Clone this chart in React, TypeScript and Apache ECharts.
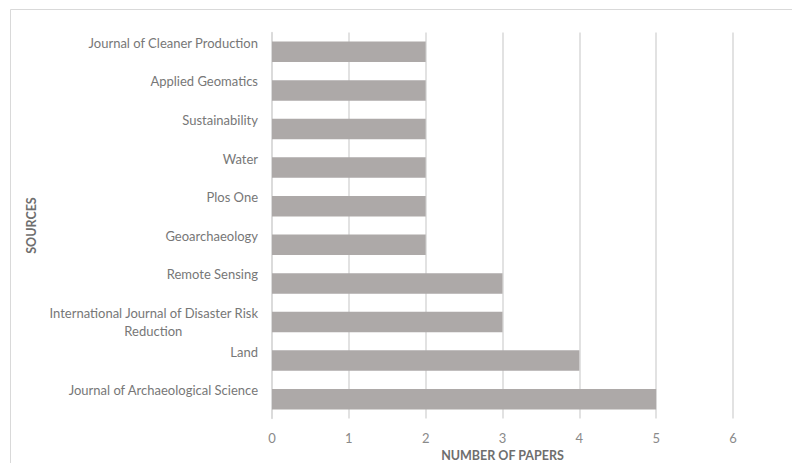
import React, { useEffect, useRef } from "react";
import * as echarts from "echarts";

const categories = [
  "Journal of Archaeological Science",
  "Land",
  "International Journal of Disaster Risk\nReduction",
  "Remote Sensing",
  "Geoarchaeology",
  "Plos One",
  "Water",
  "Sustainability",
  "Applied Geomatics",
  "Journal of Cleaner Production",
];
const paperCounts = [5, 4, 3, 3, 2, 2, 2, 2, 2, 2];
const xTicks = [0, 1, 2, 3, 4, 5, 6];

export default function App() {
  const ref = useRef<HTMLDivElement>(null);
  useEffect(() => {
    document.body.style.margin = "0";
    const chart = echarts.init(ref.current!, null, { renderer: "svg" });
    const font = "Lato, 'Open Sans', sans-serif";
    chart.setOption({
      animation: false,
      backgroundColor: "#ffffff",
      textStyle: { fontFamily: font },
      graphic: [
        {
          type: "rect",
          shape: { x: 10.5, y: 9.5, width: 800, height: 500 },
          style: { fill: "none", stroke: "#d9d9d9", lineWidth: 1 },
          silent: true,
        },
      ],
      grid: {
        left: 272,
        right: 59,
        top: 32.5,
        height: 386,
        containLabel: false,
        outerBoundsMode: "none",
      },
      xAxis: {
        type: "value",
        min: xTicks[0],
        max: xTicks[xTicks.length - 1],
        interval: 1,
        name: "NUMBER OF PAPERS",
        nameLocation: "middle",
        nameGap: 30,
        nameTextStyle: { color: "#6e6e6e", fontWeight: "bold", fontSize: 12.5, fontFamily: font },
        axisLine: { show: false },
        axisTick: { show: false },
        axisLabel: { color: "#8a8a8a", fontSize: 13, margin: 13, fontFamily: font },
        splitLine: { show: true, lineStyle: { color: "#d9d9d9", width: 1.5 } },
      },
      yAxis: {
        type: "category",
        data: categories,
        name: "SOURCES",
        nameLocation: "middle",
        nameGap: 227,
        nameRotate: 90,
        nameTextStyle: { color: "#6e6e6e", fontWeight: "bold", fontSize: 12.5, fontFamily: font },
        axisLine: { show: true, lineStyle: { color: "#d9d9d9", width: 1.5 } },
        axisTick: { show: false },
        splitLine: { show: false },
        axisLabel: {
          margin: 14,
          fontFamily: font,
          formatter: (v: string) => {
            const parts = v.split("\n");
            if (parts.length === 1) return "{a|" + v + "}\n{e| }";
            return "{a|" + parts[0] + "}\n{b|" + parts[1] + "}";
          },
          rich: {
            a: { color: "#777777", fontSize: 13, lineHeight: 18, fontFamily: font },
            b: { color: "#777777", fontSize: 13, lineHeight: 18, align: "center", fontFamily: font },
            e: { fontSize: 13, lineHeight: 18, fontFamily: font },
          },
        },
      },
      series: [
        {
          type: "bar",
          data: paperCounts,
          barCategoryGap: "47%",
          itemStyle: { color: "#ada9a8" },
          silent: true,
        },
      ],
    });
    return () => chart.dispose();
  }, []);
  return <div ref={ref} style={{ width: 792, height: 463 }} />;
}
